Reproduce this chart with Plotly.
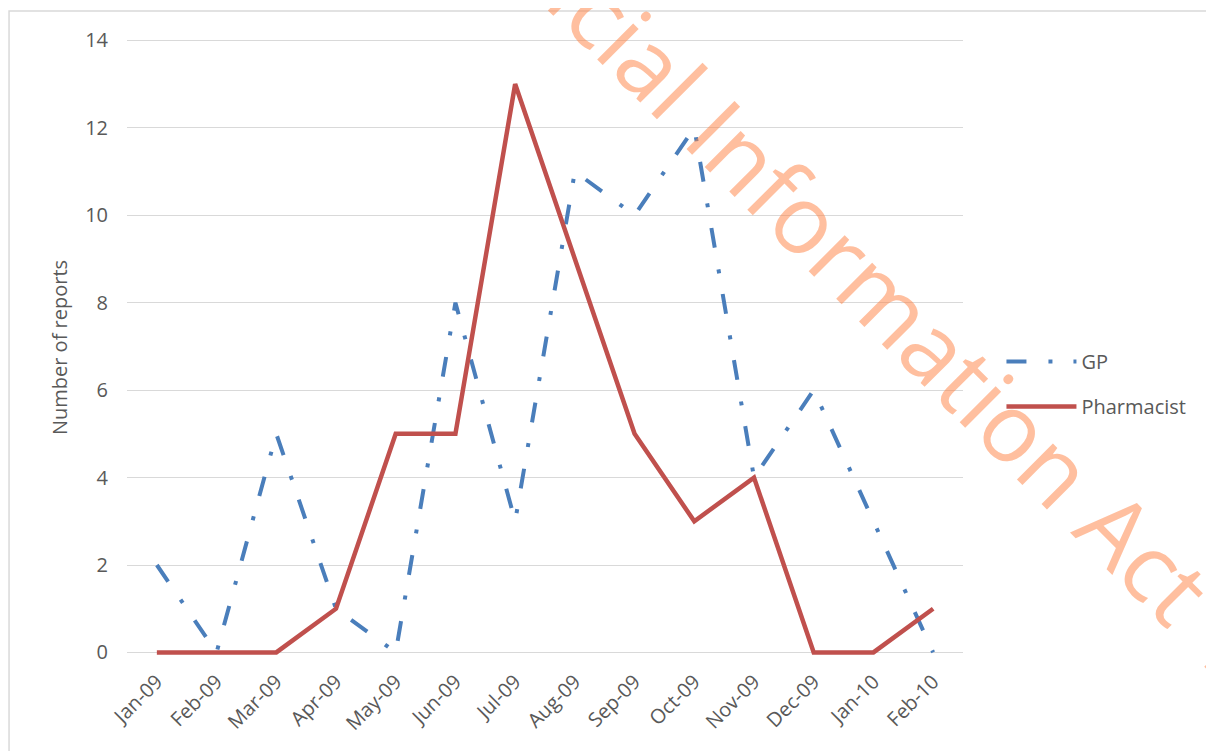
import plotly.graph_objects as go

# monthly report counts
months = ["Jan-09", "Feb-09", "Mar-09", "Apr-09", "May-09", "Jun-09", "Jul-09",
          "Aug-09", "Sep-09", "Oct-09", "Nov-09", "Dec-09", "Jan-10", "Feb-10"]
gp = [2, 0, 5, 1, 0, 8, 3, 11, 10, 12, 4, 6, 3, 0]
pharmacist = [0, 0, 0, 1, 5, 5, 13, 9, 5, 3, 4, 0, 0, 1]
y_ticks = [0, 2, 4, 6, 8, 10, 12, 14]

txt = "#595959"
grid = "#D9D9D9"
font_name = "Open Sans"

fig = go.Figure()
fig.add_trace(go.Scatter(
    x=months, y=gp, mode="lines", name="GP", legendgroup="gp",
    line=dict(color="#4A7EBB", width=4, dash="20px,22px,4px,21px"),
))
fig.add_trace(go.Scatter(
    x=months, y=pharmacist, mode="lines", name="Pharmacist", legendgroup="ph",
    line=dict(color="#C0504D", width=4.5),
))

# outer chart border (left + top visible)
fig.add_shape(type="rect", xref="paper", yref="paper",
              x0=-0.1411, x1=1.32, y0=-0.2, y1=1.0401,
              line=dict(color=grid, width=1.5), layer="below")

# watermark
fig.add_annotation(
    text="Released under the Official Information Act 1982",
    xref="paper", yref="paper", x=0.5729, y=1.0321,
    xanchor="center", yanchor="middle",
    showarrow=False, textangle=45,
    font=dict(family=font_name, size=95, color="rgba(255,128,64,0.5)"),
)

fig.update_layout(
    width=1214, height=751,
    margin=dict(l=119, r=259, t=28, b=100),
    paper_bgcolor="white", plot_bgcolor="white",
    font=dict(family=font_name, size=20, color=txt),
    showlegend=True,
    legend=dict(x=1.046, y=0.509, xanchor="left", yanchor="top",
                traceorder="grouped", tracegroupgap=16, itemwidth=70,
                font=dict(size=20, color=txt), bgcolor="rgba(0,0,0,0)"),
    xaxis=dict(showgrid=False, showline=False, zeroline=False, tickangle=-45,
               ticks="", ticklabelstandoff=6, range=[-0.5, 13.5],
               tickfont=dict(size=20, color=txt)),
    yaxis=dict(range=[-0.15, 14.1], tickvals=y_ticks, showgrid=True,
               gridcolor=grid, gridwidth=1.3, zeroline=False, showline=False,
               ticks="", ticklabelstandoff=18,
               tickfont=dict(size=20, color=txt),
               title=dict(text="Number of reports", standoff=12,
                          font=dict(size=20, color=txt))),
)

fig.write_html("out.html")
